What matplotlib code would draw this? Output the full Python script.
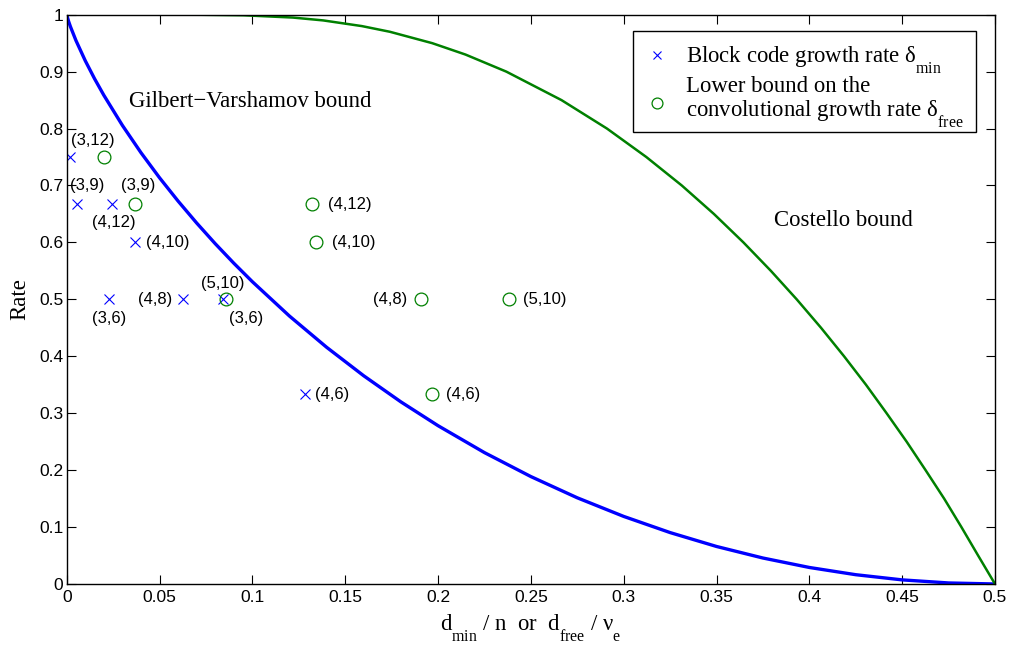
import matplotlib
matplotlib.use("Agg")
import matplotlib.pyplot as plt
import matplotlib._mathtext as mathtext_impl
from matplotlib.patches import Rectangle

# Gilbert-Varshamov bound (blue) and Costello bound (green)
gv_delta = [0, 0.001, 0.002, 0.005, 0.01, 0.015, 0.02, 0.03, 0.04, 0.05, 0.06, 0.07, 0.08, 0.09,
            0.10, 0.12, 0.14, 0.16, 0.18, 0.20, 0.225, 0.25, 0.275, 0.30, 0.325, 0.35, 0.375,
            0.40, 0.425, 0.45, 0.475, 0.5]
gv_rate = [1.0, 0.9886, 0.9792, 0.9546, 0.9192, 0.8876, 0.8586, 0.8056, 0.7577, 0.7136, 0.6726,
           0.6341, 0.5978, 0.5635, 0.5310, 0.4706, 0.4158, 0.3657, 0.3199, 0.2781, 0.2308,
           0.1887, 0.1514, 0.1187, 0.0903, 0.0659, 0.0456, 0.0290, 0.0163, 0.0072, 0.0018, 0.0]

cost_delta = [0, 0.05, 0.0724, 0.0952, 0.1218, 0.1381, 0.1590, 0.1741, 0.1969, 0.2148, 0.2368,
              0.2665, 0.2910, 0.3122, 0.3313, 0.3486, 0.3645, 0.3793, 0.3932, 0.4063, 0.4187,
              0.4305, 0.4416, 0.4524, 0.4626, 0.4726, 0.4819, 0.4909, 0.5]
cost_rate = [1.0, 1.0, 0.9999, 0.999, 0.995, 0.99, 0.98, 0.97, 0.95, 0.93, 0.90, 0.85, 0.80,
             0.75, 0.70, 0.65, 0.60, 0.55, 0.50, 0.45, 0.40, 0.35, 0.30, 0.25, 0.20, 0.15,
             0.10, 0.05, 0.0]

# codes
block_delta = [0.0018, 0.0054, 0.0244, 0.0368, 0.0228, 0.0625, 0.0844, 0.1282]
block_rate = [0.75, 0.6667, 0.6667, 0.6, 0.5, 0.5, 0.5, 0.3333]
block_labels = ["(3,12)", "(3,9)", "(4,12)", "(4,10)", "(3,6)", "(4,8)", "(5,10)", "(4,6)"]

conv_delta = [0.0203, 0.037, 0.132, 0.1342, 0.0858, 0.191, 0.2381, 0.197]
conv_rate = [0.75, 0.6667, 0.6667, 0.6, 0.5, 0.5, 0.5, 0.3333]
conv_labels = [None, "(3,9)", "(4,12)", "(4,10)", "(3,6)", "(4,8)", "(5,10)", "(4,6)"]

# label placement: (dx px, dy px, halign)
block_off = [(23, 17, "center"), (10, 19, "center"), (2, -18, "center"), (11, 0, "left"),
             (0, -19, "center"), (-10, 0, "right"), (-1, 16, "center"), (10, 0, "left")]
conv_off = [None, (3, 19, "center"), (16, 0, "left"), (16, 0, "left"),
            (20, -19, "center"), (-14, 0, "right"), (14, 0, "left"), (14, 0, "left")]

xticks = [0, 0.05, 0.1, 0.15, 0.2, 0.25, 0.3, 0.35, 0.4, 0.45, 0.5]
xticklabels = ["0", "0.05", "0.1", "0.15", "0.2", "0.25", "0.3", "0.35", "0.4", "0.45", "0.5"]
yticks = [0, 0.1, 0.2, 0.3, 0.4, 0.5, 0.6, 0.7, 0.8, 0.9, 1.0]
yticklabels = ["0", "0.1", "0.2", "0.3", "0.4", "0.5", "0.6", "0.7", "0.8", "0.9", "1"]

plt.rcParams["mathtext.fontset"] = "custom"
plt.rcParams["mathtext.rm"] = "Liberation Serif"
plt.rcParams["mathtext.it"] = "Liberation Serif"
plt.rcParams["mathtext.bf"] = "Liberation Serif"
# drop subscripts lower, MATLAB style
mathtext_impl.FontConstantsBase.sub1 = 1.05

SERIF = "Liberation Serif"
SANS = "Liberation Sans"
BLUE = "#0000ff"
GREEN = "#008000"
FS = 16.4

fig = plt.figure(figsize=(10.12, 6.48), dpi=100)
ax = fig.add_axes([0.0659, 0.0988, 0.9173, 0.8785])

ax.plot(gv_delta, gv_rate, color=BLUE, lw=2.4, solid_capstyle="butt")
ax.plot(cost_delta, cost_rate, color=GREEN, lw=1.8, solid_capstyle="butt")

hb, = ax.plot(block_delta, block_rate, ls="none", marker="x", ms=7.5, mew=0.8, color=BLUE)
hc, = ax.plot(conv_delta, conv_rate, ls="none", marker="o", ms=9.2, mew=0.9,
              mfc="none", mec=GREEN)

for x, y, lab, off in zip(block_delta, block_rate, block_labels, block_off):
    ax.annotate(lab, (x, y), xytext=off[:2], textcoords="offset pixels", ha=off[2],
                va="center", family=SANS, fontsize=12)
for x, y, lab, off in zip(conv_delta, conv_rate, conv_labels, conv_off):
    if lab is None:
        continue
    ax.annotate(lab, (x, y), xytext=off[:2], textcoords="offset pixels", ha=off[2],
                va="center", family=SANS, fontsize=12)

ax.text(0.0337, 0.847, "Gilbert\u2212Varshamov bound", family=SERIF, fontsize=FS,
        ha="left", va="center")
ax.text(0.381, 0.639, "Costello bound", family=SERIF, fontsize=FS, ha="left", va="center")

ax.set_xlim(0, 0.5)
ax.set_ylim(0, 1)
ax.set_xticks(xticks)
ax.set_xticklabels(xticklabels, family=SANS, fontsize=12.5)
ax.set_yticks(yticks)
ax.set_yticklabels(yticklabels, family=SANS, fontsize=12.5)
ax.tick_params(direction="in", length=6.5, width=0.8, top=True, right=True, pad=4)
ax.tick_params(axis="y", pad=2.5)
for s in ax.spines.values():
    s.set_linewidth(1.0)

ax.set_xlabel(r"d$_{\mathrm{min}}$ / n  or  d$_{\mathrm{free}}$ / $\mathrm{\nu}_{\mathrm{e}}$",
              family=SERIF, fontsize=FS, labelpad=6)
ax.set_ylabel("Rate", family=SERIF, fontsize=FS, labelpad=6)

# legend box drawn separately so the entries can sit a little lower inside it
ax.add_patch(Rectangle((0.610, 0.794), 0.3695, 0.1774, transform=ax.transAxes,
                       facecolor="white", edgecolor="black", lw=1.0, zorder=4.5,
                       clip_on=False))
leg = ax.legend([hb, hc],
                [r"Block code growth rate $\mathrm{\delta}_{\mathrm{min}}$",
                 "Lower bound on the\n" + r"convolutional growth rate $\mathrm{\delta}_{\mathrm{free}}$"],
                loc="upper right", bbox_to_anchor=(0.9752, 0.9609), borderaxespad=0,
                prop={"family": SERIF, "size": FS}, frameon=False,
                handlelength=0.9, handletextpad=0.85, labelspacing=0.0,
                borderpad=0.35, markerscale=0.85)
leg.get_texts()[1].set_linespacing(1.05)

fig.savefig("out.png", dpi=100)
